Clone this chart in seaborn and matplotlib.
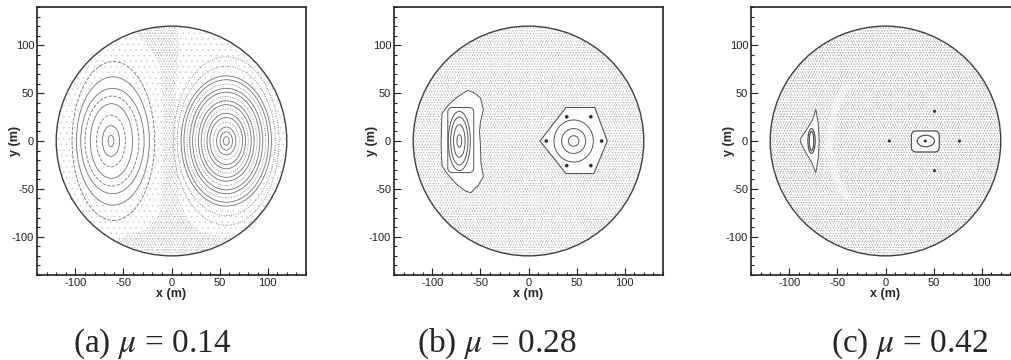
import matplotlib
matplotlib.use("Agg")
import matplotlib.pyplot as plt
import seaborn as sns
import pandas as pd
from matplotlib.patches import Circle, Ellipse, Polygon, FancyBboxPatch, Arc
from matplotlib.ticker import MultipleLocator

R_WALL = 120
TICKS = [-100, -50, 0, 50, 100]
CAPTIONS = ["(a) $\\mu$ = 0.14", "(b) $\\mu$ = 0.28", "(c) $\\mu$ = 0.42"]

# (a) mu = 0.14 -- two vortices with nested invariant curves
a_left_cx = [-63, -63, -63, -62.5, -62, -61.5, -61, -60.5]
a_left_rx = [3, 9, 15, 22, 28, 33, 38, 43]
a_left_ry = [6, 16, 27, 39, 47, 55, 67, 83]
a_left_ls = ['-', '-', '--', '-', '--', '-', '-', '--']
a_right_cx = 57
a_right_rx = [3, 6.5, 10, 13.5, 17, 20, 23, 26, 29, 32, 35, 38, 41, 44, 47, 51, 55]
a_right_ry = [4.5, 9.5, 14.5, 19.5, 24.5, 29, 33.5, 38, 42, 46.5, 51, 55, 59.5, 64, 68, 78, 88]
a_right_ls = ['-', '-', '-', ':', '-', '-', ':', '-', '-', ':', '-', '-', ':', '-', '-', ':', ':']
# stochastic layer along the separatrix
a_band = [(-38, 113.6), (-20, 118.3), (5, 119.9), (8, 100), (5, 60), (4, 20), (5, -20),
          (8, -60), (15, -80), (30, -95), (55, -100), (85, -92), (95, -73), (60, -103.9),
          (30, -116.2), (-10, -119.6), (-45, -111.2), (-60, -103.9), (-45, -98), (-25, -92),
          (-12, -75), (-9, -40), (-9, 0), (-9, 40), (-12, 80), (-25, 100)]

# (b) mu = 0.28
b_left_cx = -72
b_left_rx = [2.5, 6, 9, 11.5]
b_left_ry = [6.5, 17, 25, 31]
b_left_box = [-84, -33, 27, 68]  # x0, y0, width, height
b_left_outer = [(-63, 53), (-56, 50), (-50, 45), (-47, 33), (-50, 20), (-51, 10), (-50, -5),
                (-49.5, -23), (-47, -37), (-52, -46), (-60, -54), (-66, -52), (-75, -45),
                (-84, -35), (-90, -26), (-91, -5), (-90.5, 15), (-90, 29), (-83, 38), (-74, 46)]
b_right_cx = 47
b_right_rx = [5.5, 12.5, 20.5]
b_right_ry = [5.5, 13, 22]
b_right_hex = [(12, 0), (39, 35), (69, 35), (82, 0), (68, -34), (39, -34)]
b_chain_x = [39.8, 64.9, 18.5, 76.1, 39.8, 64.9]
b_chain_y = [25.3, 25.3, 0, 0, -25.7, -25.7]

# (c) mu = 0.42
c_left_cx = -77
c_left_rx = [3.8, 2.3]
c_left_ry = [13, 10]
c_left_outer = [(-72.5, 33), (-76, 22), (-82, 12), (-88, 3), (-88.5, -1), (-83, -12),
                (-77, -22), (-72.5, -33), (-70, -18), (-69, 0), (-70, 18)]
c_right_box = [27, -11.5, 29, 22]
c_right_cx = 42
c_right_rx = [9]
c_right_ry = [6]
c_dots_x = [41.4, 51, 51, 4, 77]
c_dots_y = [0, 31, -31, 0, 0]

sns.set_theme(style="ticks")
plt.rcParams['font.family'] = ['Liberation Sans', 'DejaVu Sans']
plt.rcParams['mathtext.fontset'] = 'stix'
plt.rcParams['axes.unicode_minus'] = False
plt.rcParams['hatch.linewidth'] = 0.25

LINE = '#555555'
LINE_A = '#7a7a7a'


def sea(ax, layers, shape=None, z=1):
    # stippled chaotic region: overlapping fine dot textures
    for hatch, color in layers:
        patch = shape() if shape else Circle((0, 0), R_WALL)
        patch.set(fc='none', ec=color, lw=0, hatch=hatch, zorder=z)
        ax.add_patch(patch)


def rings(ax, cx, rx, ry, styles=None, lw=0.7, color=LINE):
    cxs = cx if isinstance(cx, list) else [cx] * len(rx)
    styles = styles or ['-'] * len(rx)
    for x, a, b, ls in zip(cxs, rx, ry, styles):
        ax.add_patch(Ellipse((x, 0), 2 * a, 2 * b, fill=False, ec=color, lw=lw, ls=ls, zorder=3))


def mask_ellipse(ax, cx, a, b):
    ax.add_patch(Ellipse((cx, 0), 2 * a, 2 * b, fc='white', ec='none', zorder=2))


def style_axes(ax):
    ax.add_patch(Circle((0, 0), R_WALL, fill=False, ec='#404040', lw=1.0, zorder=3))
    ax.set_xlim(-140, 140)
    ax.set_ylim(-140, 140)
    ax.set_xticks(TICKS)
    ax.set_yticks(TICKS)
    ax.xaxis.set_minor_locator(MultipleLocator(10))
    ax.yaxis.set_minor_locator(MultipleLocator(10))
    ax.tick_params(which='both', direction='in', top=False, right=False,
                   labelsize=8, width=0.8, colors='#222222', pad=2)
    ax.tick_params(which='major', length=5)
    ax.tick_params(which='minor', length=2.5)
    ax.set_xlabel('x (m)', fontweight='bold', fontsize=9)
    ax.set_ylabel('y (m)', fontweight='bold', fontsize=9)
    ax.xaxis.set_label_coords(0.5, -0.05)
    ax.yaxis.set_label_coords(-0.058, 0.5)
    for s in ax.spines.values():
        s.set_linewidth(1.2)
        s.set_color('#222222')


fig = plt.figure(figsize=(10.11, 3.6), dpi=100)
W, H = 269 / 1011, 268 / 360
ax_a = fig.add_axes([37 / 1011, 85 / 360, W, H])
ax_b = fig.add_axes([394 / 1011, 85 / 360, W, H])
ax_c = fig.add_axes([751 / 1011, 85 / 360, W, H])

# ---- (a)
sea(ax_a, [('...', '#c4c4c4')])
sea(ax_a, [('......', '#a8a8a8'), ('.......', '#bcbcbc')],
    shape=lambda: Polygon(a_band, closed=True), z=1.5)
mask_ellipse(ax_a, a_left_cx[-2], a_left_rx[-2] + 1, a_left_ry[-2] + 1)
mask_ellipse(ax_a, a_right_cx, a_right_rx[-3] + 1, a_right_ry[-3] + 1)
rings(ax_a, a_left_cx, a_left_rx, a_left_ry, a_left_ls, lw=0.65, color=LINE_A)
rings(ax_a, a_right_cx, a_right_rx, a_right_ry, a_right_ls, lw=0.65, color=LINE_A)

# ---- (b)
sea(ax_b, [('......', '#a0a0a0'), ('.......', '#b8b8b8')])
ax_b.add_patch(Polygon(b_left_outer, closed=True, fc='white', ec=LINE, lw=0.7, zorder=2))
ax_b.add_patch(FancyBboxPatch((b_left_box[0], b_left_box[1]), b_left_box[2], b_left_box[3],
                              boxstyle='round,pad=0,rounding_size=5', fill=False, ec=LINE, lw=0.7, zorder=3))
rings(ax_b, b_left_cx, b_left_rx, b_left_ry)
ax_b.add_patch(Polygon(b_right_hex, closed=True, fc='white', ec=LINE, lw=0.8,
                       joinstyle='round', zorder=2))
rings(ax_b, b_right_cx, b_right_rx, b_right_ry)
sns.scatterplot(x=b_chain_x, y=b_chain_y, ax=ax_b, s=7, color='#333333',
                edgecolor='none', zorder=4, legend=False)

# ---- (c)
sea(ax_c, [('......', '#8c8c8c'), ('.......', '#a4a4a4')])
ax_c.add_patch(Arc((45, 0), 206, 206, theta1=145, theta2=215, color='white', lw=5, alpha=0.5, zorder=1.8))
ax_c.add_patch(Polygon(c_left_outer, closed=True, fc='white', ec=LINE, lw=0.7, zorder=2))
rings(ax_c, c_left_cx, c_left_rx, c_left_ry, lw=0.9)
ax_c.add_patch(FancyBboxPatch((c_right_box[0], c_right_box[1]), c_right_box[2], c_right_box[3],
                              boxstyle='round,pad=0,rounding_size=5', fc='white', ec=LINE, lw=0.9, zorder=2))
rings(ax_c, c_right_cx, c_right_rx, c_right_ry, lw=0.9)
dots = pd.DataFrame({'x': c_dots_x, 'y': c_dots_y})
sns.scatterplot(data=dots, x='x', y='y', ax=ax_c, s=5, color='#333333',
                edgecolor='none', zorder=4, legend=False)

for ax in (ax_a, ax_b, ax_c):
    style_axes(ax)

for xc, txt in zip([152, 497, 910], CAPTIONS):
    fig.text(xc / 1011, 1 - 344 / 360, txt, ha='center', va='center',
             fontsize=24, family=['Liberation Serif', 'DejaVu Serif'])

fig.savefig('out.png', dpi=100)
